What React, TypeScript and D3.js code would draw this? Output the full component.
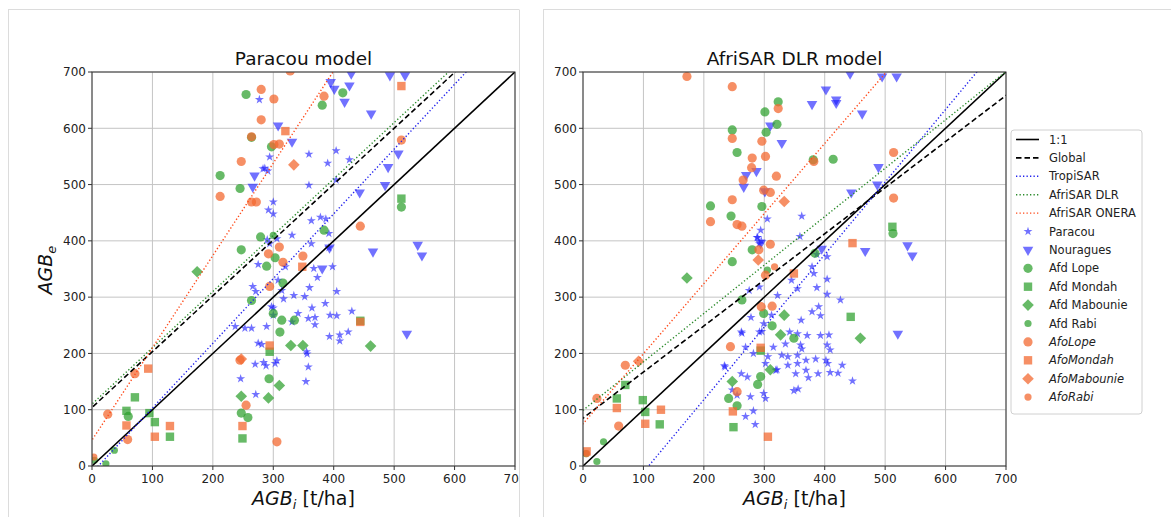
import React from 'react';
import * as d3 from 'd3';

type Pt = [number, number];

const xTicks = [0, 100, 200, 300, 400, 500, 600, 700];
const yTicks = [0, 100, 200, 300, 400, 500, 600, 700];

// Fit lines: 1:1, Global, TropiSAR, AfriSAR DLR, AfriSAR ONERA
const fitNames = ['1:1', 'Global', 'TropiSAR', 'AfriSAR DLR', 'AfriSAR ONERA'];
const interceptsL = [0, 104, -12, 110, 46];
const slopesL = [1, 0.992, 1.15, 1.0, 1.64];
const interceptsR = [0, 85, -140, 99, 75];
const slopesR = [1, 0.819, 1.289, 0.86, 1.245];

const seriesNames = ['Paracou', 'Nouragues', 'Afd Lope', 'Afd Mondah', 'Afd Mabounie', 'Afd Rabi', 'AfoLope', 'AfoMondah', 'AfoMabounie', 'AfoRabi'];

// ---------- Paracou model (left) ----------
const paracouL: Pt[] = [[277,651],[359,554],[390,538],[404,560],[426,544],[294,549],[283,528],[291,524],[359,499],[404,508],[300,469],[292,455],[300,448],[363,436],[378,442],[387,439],[392,413],[331,410],[306,404],[290,402],[294,395],[363,395],[392,388],[275,358],[320,354],[367,351],[398,354],[266,319],[271,310],[308,330],[314,312],[360,317],[373,335],[405,310],[386,289],[352,301],[334,303],[317,297],[297,283],[364,281],[300,281],[341,271],[358,262],[369,264],[394,268],[405,267],[430,275],[331,256],[369,251],[237,248],[253,245],[264,245],[289,248],[393,230],[410,233],[410,222],[424,238],[275,218],[281,216],[355,203],[356,199],[270,181],[284,184],[288,178],[303,182],[306,187],[358,176],[246,155],[354,150],[271,127],[286,529],[300,268]];
const nouraguesL: Pt[] = [[429,697],[493,694],[518,694],[395,682],[401,670],[426,676],[418,647],[462,626],[308,605],[331,576],[507,555],[490,531],[485,499],[443,486],[269,516],[266,496],[465,381],[539,393],[546,374],[381,351],[521,235],[393,388]];
const afdLopeL: Pt[] = [[255,660],[415,663],[381,641],[297,567],[212,516],[245,493],[279,407],[247,384],[384,419],[303,370],[289,355],[316,325],[264,294],[300,271],[311,238],[314,259],[335,259],[512,460],[293,155],[247,94],[258,86],[60,88],[264,584]];
const afdMondahL: Pt[] = [[512,475],[71,122],[57,98],[104,78],[129,52],[249,49],[294,203],[95,94],[444,258]];
const afdMabounieL: Pt[] = [[174,345],[247,124],[292,121],[310,143],[329,214],[349,214],[461,213]];
const afdRabiL: Pt[] = [[37,28],[23,4],[4,10],[300,410]];
const afoLopeL: Pt[] = [[280,669],[301,652],[384,657],[280,615],[310,572],[247,541],[212,479],[264,469],[272,469],[444,426],[349,373],[310,389],[292,377],[294,319],[316,362],[245,188],[255,108],[26,92],[59,47],[306,43],[328,702],[512,579],[264,585],[71,164],[301,571]];
const afoMondahL: Pt[] = [[93,173],[57,72],[104,52],[129,71],[249,71],[294,214],[512,675],[444,256],[348,354],[320,595]];
const afoMabounieL: Pt[] = [[334,535],[247,190]];
const afoRabiL: Pt[] = [[3,16]];

// ---------- AfriSAR DLR model (right) ----------
const paracouR: Pt[] = [[305,439],[362,444],[359,408],[294,419],[289,406],[292,395],[379,354],[382,342],[404,332],[345,330],[355,315],[387,317],[322,303],[404,305],[275,312],[292,318],[426,295],[262,238],[292,238],[299,253],[312,268],[361,259],[379,274],[390,283],[393,267],[355,235],[371,232],[393,232],[407,233],[342,238],[269,211],[235,176],[315,211],[335,217],[329,197],[360,215],[362,208],[339,194],[355,197],[404,215],[409,206],[355,182],[369,188],[385,190],[402,188],[405,182],[369,170],[389,164],[409,166],[422,165],[429,179],[302,182],[319,170],[339,179],[352,164],[349,134],[356,137],[262,164],[272,158],[255,126],[269,88],[282,98],[285,74],[302,120],[299,129],[446,151],[282,200],[263,236],[278,264],[296,239],[373,157],[321,171],[306,194],[234,178],[277,123],[247,135],[404,372],[387,376],[288,406],[295,400]];
const nouraguesR: Pt[] = [[442,697],[495,692],[519,692],[402,669],[419,651],[419,645],[379,643],[462,626],[310,605],[329,574],[489,531],[270,517],[287,524],[266,496],[487,500],[444,486],[301,488],[395,386],[467,382],[537,392],[545,374],[521,235],[294,396]];
const afdLopeR: Pt[] = [[323,647],[301,629],[321,607],[303,593],[247,597],[255,557],[414,545],[381,544],[211,462],[245,444],[296,461],[280,384],[247,363],[513,413],[384,378],[263,295],[299,271],[313,249],[349,227],[294,159],[289,145],[241,120],[255,107]];
const afdMondahR: Pt[] = [[56,120],[70,144],[99,117],[103,96],[127,74],[249,69],[443,265],[512,425],[294,205]];
const afdMabounieR: Pt[] = [[172,334],[333,268],[327,233],[459,227],[247,150],[310,171]];
const afdRabiR: Pt[] = [[23,8],[34,43],[5,22],[305,348]];
const afoLopeR: Pt[] = [[172,692],[247,674],[323,635],[296,577],[247,582],[280,547],[302,550],[279,530],[320,515],[265,508],[299,490],[310,486],[247,473],[211,434],[255,429],[263,426],[514,557],[514,476],[382,541],[310,394],[302,339],[295,283],[313,284],[244,212],[255,132],[23,120],[59,71],[70,179],[291,384]];
const afoMondahR: Pt[] = [[446,396],[294,210],[248,97],[306,52],[6,26],[56,103],[103,75],[129,100],[349,342]];
const afoMabounieR: Pt[] = [[333,470],[92,186],[290,366]];
const afoRabiR: Pt[] = [[6,22],[317,354]];

const BLUE = '#1a1aff';
const GREEN = '#2ca02c';
const ORANGE = '#f36a32';

const lineStyles = [
  { color: '#000', dash: '', width: 1.6 },
  { color: '#000', dash: '5.5 3', width: 1.6 },
  { color: '#2222ee', dash: '1.3 2.2', width: 1.4 },
  { color: '#2a8a2a', dash: '1.3 2.2', width: 1.4 },
  { color: '#ff4a1a', dash: '1.3 2.2', width: 1.4 },
];

const seriesStyles = [
  { shape: 'star', color: BLUE, op: 0.62 },
  { shape: 'tri', color: BLUE, op: 0.62 },
  { shape: 'circle', color: GREEN, op: 0.72 },
  { shape: 'square', color: GREEN, op: 0.72 },
  { shape: 'diamond', color: GREEN, op: 0.72 },
  { shape: 'small', color: GREEN, op: 0.72 },
  { shape: 'circle', color: ORANGE, op: 0.75 },
  { shape: 'square', color: ORANGE, op: 0.75 },
  { shape: 'diamond', color: ORANGE, op: 0.75 },
  { shape: 'small', color: ORANGE, op: 0.75 },
];

const starPath = d3.symbol(d3.symbolStar, 25)() as string;
const triPath = d3.symbol(d3.symbolTriangle, 48)() as string;
const diamondPath = 'M0,-5.8L5.8,0L0,5.8L-5.8,0Z';

function Marker({ shape, cx, cy, color, op }: any) {
  const t = `translate(${cx},${cy})`;
  switch (shape) {
    case 'star':
      return <path d={starPath} transform={t} fill={color} fillOpacity={op} />;
    case 'tri':
      return <path d={triPath} transform={`${t} rotate(180)`} fill={color} fillOpacity={op} />;
    case 'circle':
      return <circle cx={cx} cy={cy} r={4.6} fill={color} fillOpacity={op} />;
    case 'square':
      return <rect x={cx - 4.2} y={cy - 4.2} width={8.4} height={8.4} fill={color} fillOpacity={op} />;
    case 'diamond':
      return <path d={diamondPath} transform={t} fill={color} fillOpacity={op} />;
    default:
      return <circle cx={cx} cy={cy} r={3.6} fill={color} fillOpacity={op} />;
  }
}

const TOP = 72;
const BOTTOM = 466;
const WIDTH = 423;
const FONT = 'DejaVu Sans, sans-serif';

function Panel({ id, left, title, yLabel, data, intercepts, slopes }: any) {
  const x = d3.scaleLinear().domain([0, 700]).range([left, left + WIDTH]);
  const y = d3.scaleLinear().domain([0, 700]).range([BOTTOM, TOP]);
  const cx = left + WIDTH / 2;
  return (
    <g>
      <defs>
        <clipPath id={`clip-${id}`}>
          <rect x={left} y={TOP} width={WIDTH} height={BOTTOM - TOP} />
        </clipPath>
      </defs>
      {xTicks.map((t) => (
        <line key={'gx' + t} x1={x(t)} x2={x(t)} y1={TOP} y2={BOTTOM} stroke="#c4c4c4" strokeWidth={1} />
      ))}
      {yTicks.map((t) => (
        <line key={'gy' + t} x1={left} x2={left + WIDTH} y1={y(t)} y2={y(t)} stroke="#c4c4c4" strokeWidth={1} />
      ))}
      <g clipPath={`url(#clip-${id})`}>
        {data.map((pts: Pt[], si: number) =>
          pts.map((p: Pt, i: number) => (
            <Marker key={si + '-' + i} shape={seriesStyles[si].shape} cx={x(p[0])} cy={y(p[1])} color={seriesStyles[si].color} op={seriesStyles[si].op} />
          ))
        )}
        {intercepts.map((b: number, i: number) => (
          <line key={'fit' + i} x1={x(-50)} y1={y(b + slopes[i] * -50)} x2={x(750)} y2={y(b + slopes[i] * 750)}
            stroke={lineStyles[i].color} strokeWidth={lineStyles[i].width} strokeDasharray={lineStyles[i].dash} />
        ))}
      </g>
      <rect x={left} y={TOP} width={WIDTH} height={BOTTOM - TOP} fill="none" stroke="#333" strokeWidth={1} />
      {xTicks.map((t) => (
        <g key={'tx' + t}>
          <line x1={x(t)} x2={x(t)} y1={BOTTOM} y2={BOTTOM + 4} stroke="#333" />
          <text x={x(t)} y={BOTTOM + 17} textAnchor="middle" fontSize={12} fontFamily={FONT} fill="#222">{t}</text>
        </g>
      ))}
      {yTicks.map((t) => (
        <g key={'ty' + t}>
          <line x1={left - 4} x2={left} y1={y(t)} y2={y(t)} stroke="#333" />
          <text x={left - 6} y={y(t) + 4.3} textAnchor="end" fontSize={12} fontFamily={FONT} fill="#222">{t}</text>
        </g>
      ))}
      <text x={cx} y={65} textAnchor="middle" fontSize={18.5} fontFamily={FONT} fill="#111">{title}</text>
      <text x={cx} y={505} textAnchor="middle" fontSize={19} fontFamily={FONT} fill="#111">
        <tspan fontStyle="italic">AGB</tspan>
        <tspan fontStyle="italic" fontSize={13} dy={4}>i</tspan>
        <tspan dy={-4}> [t/ha]</tspan>
      </text>
      {yLabel && (
        <text transform={`translate(52,270) rotate(-90)`} textAnchor="middle" fontSize={19} fontFamily={FONT} fill="#111">
          <tspan fontStyle="italic">AGB</tspan>
          <tspan fontStyle="italic" fontSize={13} dy={4}>e</tspan>
        </text>
      )}
    </g>
  );
}

function Legend() {
  const lx = 1011;
  const ty = 130;
  const rowY = (i: number) => 139.5 + i * 18.4;
  return (
    <g fontFamily={FONT} fontSize={11.5}>
      <rect x={lx} y={ty} width={131} height={284} rx={3} fill="#fff" fillOpacity={0.9} stroke="#d0d0d0" />
      {fitNames.map((n, i) => (
        <g key={n}>
          <line x1={lx + 5} x2={lx + 28} y1={rowY(i)} y2={rowY(i)} stroke={lineStyles[i].color} strokeWidth={lineStyles[i].width} strokeDasharray={lineStyles[i].dash} />
          <text x={lx + 38} y={rowY(i) + 4} fill="#222">{n}</text>
        </g>
      ))}
      {seriesNames.map((n, i) => {
        const r = i + fitNames.length;
        const s = seriesStyles[i];
        return (
          <g key={n}>
            <Marker shape={s.shape} cx={lx + 17} cy={rowY(r)} color={s.color} op={s.op} />
            <text x={lx + 38} y={rowY(r) + 4} fill="#222" fontStyle={i >= 6 ? 'italic' : 'normal'}>{n}</text>
          </g>
        );
      })}
    </g>
  );
}

export default function App() {
  const dataL = [paracouL, nouraguesL, afdLopeL, afdMondahL, afdMabounieL, afdRabiL, afoLopeL, afoMondahL, afoMabounieL, afoRabiL];
  const dataR = [paracouR, nouraguesR, afdLopeR, afdMondahR, afdMabounieR, afdRabiR, afoLopeR, afoMondahR, afoMabounieR, afoRabiR];
  return (
    <svg width={1171} height={517} style={{ position: 'absolute', left: 0, top: 0, background: '#fff' }}>
      <defs>
        <clipPath id="panelL">
          <rect x={0} y={0} width={519} height={517} />
        </clipPath>
      </defs>
      <rect x={0} y={0} width={1171} height={517} fill="#fff" />
      <g clipPath="url(#panelL)">
        <rect x={8.5} y={9.5} width={511} height={520} fill="#fff" stroke="#dcdcdc" />
        <Panel id="L" left={92} title="Paracou model" yLabel data={dataL} intercepts={interceptsL} slopes={slopesL} />
      </g>
      <line x1={519.5} x2={519.5} y1={9.5} y2={517} stroke="#dcdcdc" />
      <rect x={543.5} y={9.5} width={640} height={520} fill="#fff" stroke="#dcdcdc" />
      <Panel id="R" left={583} title="AfriSAR DLR model" yLabel={false} data={dataR} intercepts={interceptsR} slopes={slopesR} />
      <Legend />
    </svg>
  );
}
